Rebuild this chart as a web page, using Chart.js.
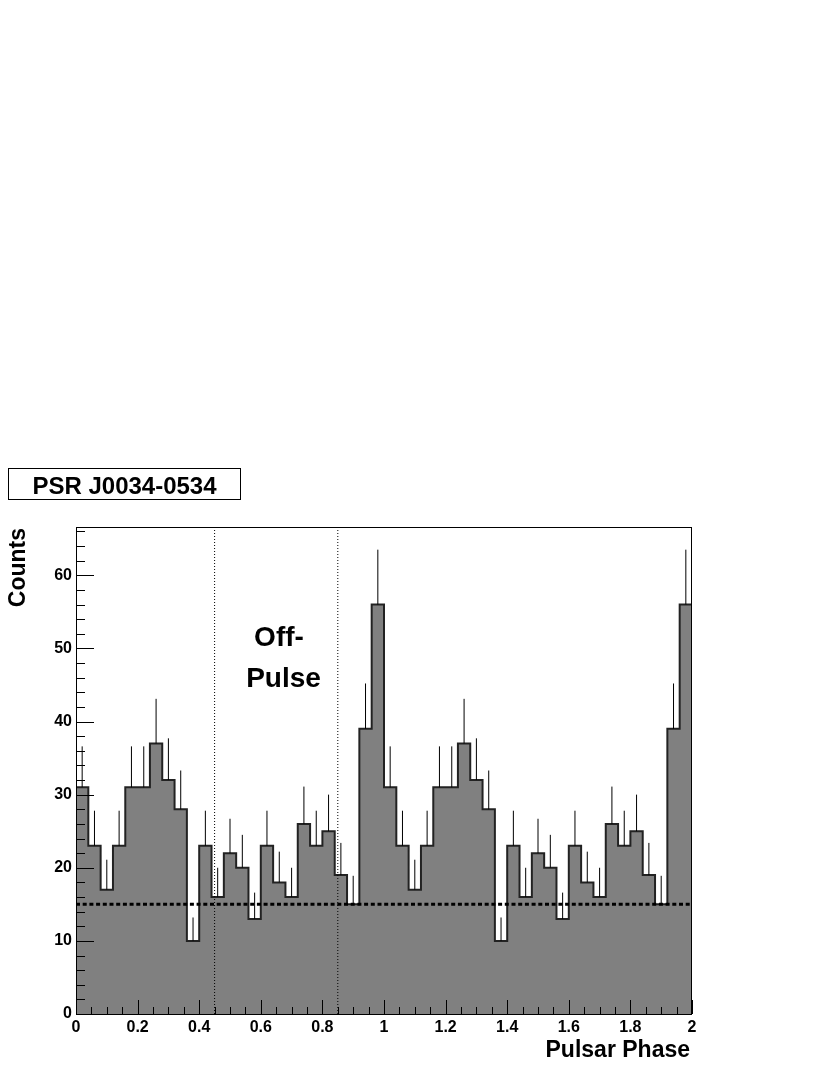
<!DOCTYPE html>
<html>
<head>
<meta charset="utf-8">
<script src="https://cdn.jsdelivr.net/npm/chart.js@4"></script>
<style>
  body{margin:0;background:#fff;}
  canvas{display:block;}
</style>
</head>
<body>
<canvas id="grafica" width="830" height="1075"></canvas>
<script>
//datos
const counts=[31,23,17,23,31,31,37,32,28,10,23,16,22,20,13,23,18,16,26,23,25,19,15,39,56];
const errors=[5.6,4.8,4.1,4.8,5.6,5.6,6.1,5.7,5.3,3.2,4.8,4.0,4.7,4.5,3.6,4.8,4.2,4.0,5.1,4.8,5.0,4.4,3.9,6.2,7.5];
const binWidth=0.04;
const cycles=2;
const background=15;
const offPulse=[0.45,0.85];
const xTickValues=[0,0.2,0.4,0.6,0.8,1,1.2,1.4,1.6,1.8,2];
const yTickValues=[0,10,20,30,40,50,60];
const yMax=66.6;

const fuente="'Liberation Sans', Arial, Helvetica, sans-serif";

//histograma (dos ciclos)
let histo=[];
let errBars=[];
for(let c=0;c<cycles;c++)
{
  for(let i=0;i<counts.length;i++)
  {
    let x0=(c*counts.length+i)*binWidth;
    histo.push({x:x0,y:counts[i]});
    let xc=x0+binWidth/2;
    errBars.push({x:xc,y:counts[i]});
    errBars.push({x:xc,y:counts[i]+errors[i]});
    errBars.push({x:xc,y:null});
  }
}
histo.push({x:cycles*counts.length*binWidth,y:counts[counts.length-1]});

let xEnd=cycles*counts.length*binWidth;
let lineaFondo=[{x:0,y:background},{x:xEnd,y:background}];
let lineasOff=[];
offPulse.forEach(function(p){
  lineasOff.push({x:p,y:0});
  lineasOff.push({x:p,y:yMax});
  lineasOff.push({x:p,y:null});
});

//marco, ticks y textos
const extras={
  id:'extras',
  afterDatasetsDraw(chart){
    const ctx=chart.ctx;
    const a=chart.chartArea;
    const xs=chart.scales.x;
    const ys=chart.scales.y;
    ctx.save();
    ctx.strokeStyle='#000';
    ctx.lineWidth=1;
    ctx.strokeRect(a.left+0.5,a.top+0.5,a.right-a.left-1,a.bottom-a.top);
    ctx.beginPath();
    for(let v=0;v<=yMax;v+=2)
    {
      let y=Math.round(ys.getPixelForValue(v))+0.5;
      let len=(v%10===0)?18:9;
      ctx.moveTo(a.left,y);
      ctx.lineTo(a.left+len,y);
    }
    for(let k=0;k<=40;k++)
    {
      let x=Math.round(xs.getPixelForValue(k*0.05))+0.5;
      let len=(k%4===0)?14:7;
      ctx.moveTo(x,a.bottom);
      ctx.lineTo(x,a.bottom-len);
    }
    ctx.stroke();

    //titulo
    ctx.fillStyle='#000';
    ctx.strokeRect(8.5,468.5,232,31);
    ctx.font='bold 24px '+fuente;
    ctx.textAlign='center';
    ctx.textBaseline='alphabetic';
    ctx.fillText('PSR J0034-0534',124.5,494);

    //off pulse
    ctx.font='bold 28px '+fuente;
    ctx.fillText('Off-',279,646);
    ctx.fillText('Pulse',283.5,687);

    //ejes
    ctx.font='bold 23px '+fuente;
    ctx.textAlign='right';
    ctx.fillText('Pulsar Phase',690,1057);
    ctx.translate(25,528);
    ctx.rotate(-Math.PI/2);
    ctx.fillText('Counts',0,0);
    ctx.restore();
  }
};

new Chart(document.getElementById('grafica'),{
  type:'line',
  data:{
    datasets:[
      {
        data:histo,
        order:4,
        stepped:'before',
        fill:'origin',
        backgroundColor:'#808080',
        borderColor:'#222',
        borderWidth:2,
        pointRadius:0
      },
      {
        data:errBars,
        order:3,
        borderColor:'#000',
        borderWidth:1,
        pointRadius:0,
        spanGaps:false,
        fill:false
      },
      {
        data:lineaFondo,
        order:1,
        borderColor:'#000',
        borderWidth:3,
        borderDash:[4,2.7],
        pointRadius:0,
        fill:false
      },
      {
        data:lineasOff,
        order:2,
        borderColor:'#000',
        borderWidth:1,
        borderDash:[1,2],
        pointRadius:0,
        spanGaps:false,
        fill:false
      }
    ]
  },
  options:{
    responsive:false,
    devicePixelRatio:1,
    animation:false,
    layout:{padding:{left:0,right:138,top:527,bottom:0}},
    plugins:{legend:{display:false},tooltip:{enabled:false}},
    scales:{
      x:{
        type:'linear',
        min:0,
        max:2,
        grid:{display:false,drawTicks:false},
        border:{display:false},
        afterFit:function(s){s.height=61;},
        afterBuildTicks:function(s){s.ticks=xTickValues.map(v=>({value:v}));},
        ticks:{
          padding:4,
          color:'#000',
          font:{family:fuente,size:16,weight:'bold'},
          maxRotation:0,
          autoSkip:false,
          callback:function(v){return String(v);}
        }
      },
      y:{
        type:'linear',
        min:0,
        max:yMax,
        grid:{display:false,drawTicks:false},
        border:{display:false},
        afterFit:function(s){s.width=76;},
        afterBuildTicks:function(s){s.ticks=yTickValues.map(v=>({value:v}));},
        ticks:{
          padding:4,
          color:'#000',
          font:{family:fuente,size:16,weight:'bold'},
          callback:function(v){return String(v);}
        }
      }
    }
  },
  plugins:[extras]
});
</script>
</body>
</html>
